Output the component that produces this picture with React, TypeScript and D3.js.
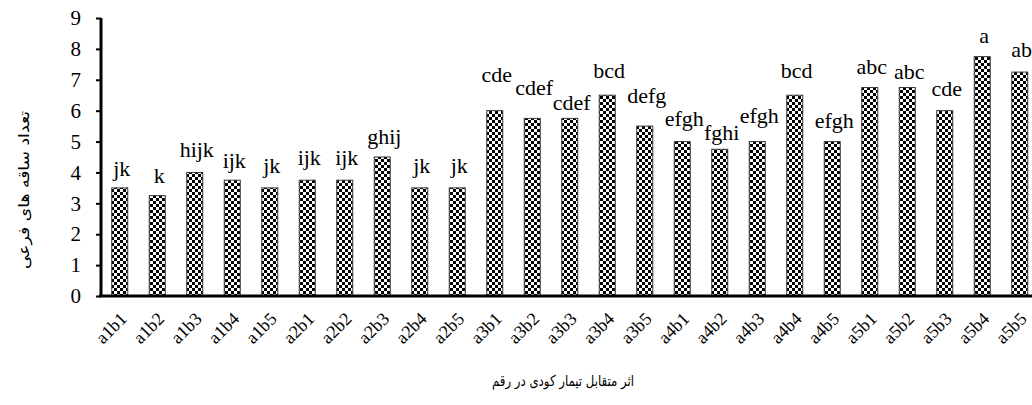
import React, { useRef, useEffect } from 'react';
import * as d3 from 'd3';

// treatment combinations (a x b)
const categories = [
    'a1b1', 'a1b2', 'a1b3', 'a1b4', 'a1b5',
    'a2b1', 'a2b2', 'a2b3', 'a2b4', 'a2b5',
    'a3b1', 'a3b2', 'a3b3', 'a3b4', 'a3b5',
    'a4b1', 'a4b2', 'a4b3', 'a4b4', 'a4b5',
    'a5b1', 'a5b2', 'a5b3', 'a5b4', 'a5b5',
];

// number of lateral stems
const values = [
    3.5, 3.25, 4, 3.75, 3.5,
    3.75, 3.75, 4.5, 3.5, 3.5,
    6, 5.75, 5.75, 6.5, 5.5,
    5, 4.75, 5, 6.5, 5,
    6.75, 6.75, 6, 7.75, 7.25,
];

// mean comparison letters
const letters = [
    'jk', 'k', 'hijk', 'ijk', 'jk',
    'ijk', 'ijk', 'ghij', 'jk', 'jk',
    'cde', 'cdef', 'cdef', 'bcd', 'defg',
    'efgh', 'fghi', 'efgh', 'bcd', 'efgh',
    'abc', 'abc', 'cde', 'a', 'ab',
];

const yTicks = [0, 1, 2, 3, 4, 5, 6, 7, 8, 9];

const yTitle = 'تعداد ساقه های فرعی';
const xTitle = 'اثر متقابل تیمار کودی در رقم';

// how far (px) each letter sits above its bar, as placed in the original
const labelGap = [
    12, 13, 15, 12, 15,
    15, 15, 13, 15, 15,
    29, 23, 8, 17, 23,
    16, 9, 19, 17, 14,
    14, 9, 15, 14, 15,
];

const serif = "'Liberation Serif', 'Times New Roman', serif";
const arabic = "'DejaVu Sans', sans-serif";

const App: React.FC = () => {
    const svgRef = useRef<SVGSVGElement | null>(null);

    useEffect(() => {
        if (!svgRef.current) return;

        const width = 1032;
        const left = 101;
        const step = 37.5;
        const top = 18;
        const bottom = 296;

        const x = d3
            .scaleBand<string>()
            .domain(categories)
            .range([left, left + step * categories.length])
            .paddingInner(0.573)
            .paddingOuter(0.2865);

        const y = d3.scaleLinear().domain([0, 9]).range([bottom, top]);

        const svg = d3.select(svgRef.current);
        svg.selectAll('*').remove();

        // checkered fill
        const pat = svg
            .append('defs')
            .append('pattern')
            .attr('id', 'checks')
            .attr('patternUnits', 'userSpaceOnUse')
            .attr('width', 6)
            .attr('height', 6);
        pat.append('rect').attr('width', 6).attr('height', 6).attr('fill', '#fff');
        pat.append('rect').attr('width', 3).attr('height', 3).attr('fill', '#000');
        pat.append('rect').attr('x', 3).attr('y', 3).attr('width', 3).attr('height', 3).attr('fill', '#000');

        // bars
        svg.append('g')
            .selectAll('rect')
            .data(values)
            .join('rect')
            .attr('x', (d, i) => x(categories[i]) as number)
            .attr('y', d => y(d))
            .attr('width', x.bandwidth())
            .attr('height', d => y(0) - y(d))
            .attr('fill', 'url(#checks)')
            .attr('stroke', '#3a3a3a')
            .attr('stroke-width', 1);

        // letters above bars
        svg.append('g')
            .selectAll('text')
            .data(values)
            .join('text')
            .attr('x', (d, i) => (x(categories[i]) as number) + x.bandwidth() / 2 + 2)
            .attr('y', (d, i) => y(d) - labelGap[i])
            .attr('text-anchor', 'middle')
            .style('font-family', serif)
            .style('font-size', '22px')
            .style('fill', '#000')
            .text((d, i) => letters[i]);

        // y axis
        const yAxis = svg
            .append('g')
            .attr('transform', `translate(${left},0)`)
            .call(d3.axisLeft(y).tickValues(yTicks).tickSize(5).tickPadding(15));
        yAxis.select('.domain').attr('stroke', '#000').attr('stroke-width', 3).attr('d', `M0,${top}V${bottom}`);
        yAxis.selectAll('.tick line').attr('stroke', '#000').attr('stroke-width', 2);
        yAxis
            .selectAll('.tick text')
            .style('font-family', serif)
            .style('font-size', '21px')
            .style('fill', '#000');

        // x axis line
        svg.append('line')
            .attr('x1', left - 2)
            .attr('x2', width)
            .attr('y1', bottom)
            .attr('y2', bottom)
            .attr('stroke', '#000')
            .attr('stroke-width', 3);

        // rotated category labels
        svg.append('g')
            .selectAll('text')
            .data(categories)
            .join('text')
            .attr('transform', d => `translate(${(x(d) as number) + x.bandwidth() / 2 + 8},${bottom + 24}) rotate(-45)`)
            .attr('text-anchor', 'end')
            .style('font-family', serif)
            .style('font-size', '18px')
            .style('fill', '#000')
            .text(d => d);

        // axis titles
        svg.append('text')
            .attr('transform', 'translate(29,190) rotate(-90)')
            .attr('text-anchor', 'middle')
            .attr('textLength', 158)
            .attr('lengthAdjust', 'spacingAndGlyphs')
            .style('font-family', arabic)
            .style('font-size', '15px')
            .style('fill', '#000')
            .text(yTitle);

        svg.append('text')
            .attr('x', 563)
            .attr('y', 386)
            .attr('text-anchor', 'middle')
            .attr('textLength', 142)
            .attr('lengthAdjust', 'spacingAndGlyphs')
            .style('font-family', arabic)
            .style('font-size', '15px')
            .style('fill', '#000')
            .text(xTitle);
    }, []);

    return (
        <svg
            ref={svgRef}
            width={1032}
            height={405}
            style={{ position: 'absolute', left: 0, top: 0, background: '#fff' }}
        />
    );
};

export default App;
